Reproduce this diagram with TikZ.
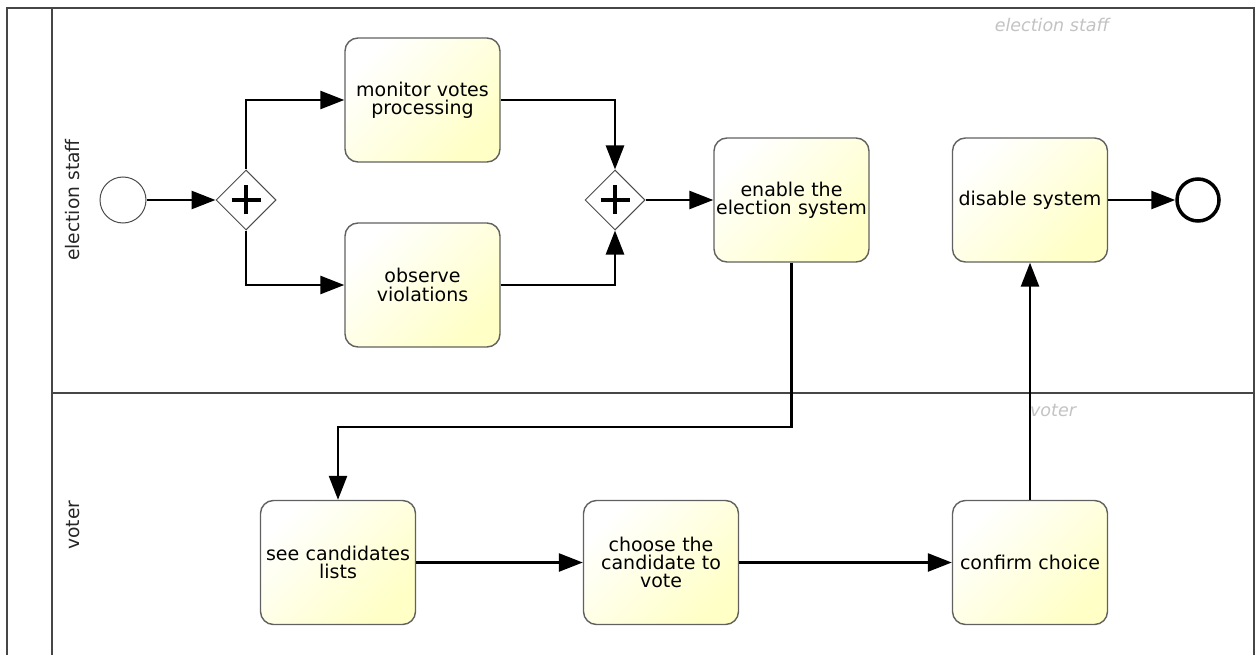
\documentclass[tikz,border=0pt]{standalone}
\usepackage{fontspec}
\setmainfont{DejaVu Sans}
\usetikzlibrary{arrows.meta,shapes.geometric}
\definecolor{taskyellow}{RGB}{255,255,198}
\definecolor{poolline}{RGB}{70,70,70}
\definecolor{ghost}{RGB}{195,195,195}
\begin{document}
\begin{tikzpicture}[x=1pt,y=-1pt,
  task/.style={rectangle, rounded corners=13pt, draw=black!62, line width=1.4pt,
    minimum width=155pt, minimum height=124pt, inner sep=0pt, align=center,
    text width=153pt, font=\fontsize{19}{18.3}\selectfont,
    left color=white, right color=taskyellow, shading angle=45},
  gateway/.style={diamond, draw=black!70, line width=1pt, fill=white,
    minimum width=60pt, minimum height=60pt, inner sep=0pt},
  plus/.style={line width=4pt, black},
  startev/.style={circle, draw=black!70, line width=1pt, fill=white,
    minimum size=46pt, inner sep=0pt},
  endev/.style={circle, draw=black, line width=3.5pt, fill=white,
    minimum size=42pt, inner sep=0pt},
  flow/.style={line width=2.6pt, -{Triangle[length=24pt,width=18pt]}},
  lanebox/.style={draw=poolline, line width=1.8pt},
  lanename/.style={rotate=90, font=\fontsize{18.7}{18}\selectfont, text=black!85},
  ghostname/.style={font=\fontsize{17.5}{18}\selectfont\itshape, text=ghost}]
\useasboundingbox (0,0) rectangle (1255,655);
\fill[white] (0,0) rectangle (1255,655);

% pool and lanes
\draw[lanebox] (7,655) -- (7,8) -- (1254,8) -- (1254,655);
\draw[lanebox] (52,8) -- (52,655);
\draw[lanebox] (52,393) -- (1254,393);
\node[lanename] (laneA) at (73,200) {election staff};
\node[lanename] (laneB) at (73,525) {voter};
\node[ghostname] (ghostA) at (1052,25) {election staff};
\node[ghostname] (ghostB) at (1053,410) {voter};

% election staff lane
\node[startev] (start) at (123,200) {};
\node[gateway] (g1) at (246,200) {};
\node[task] (monitor) at (422.5,100) {monitor votes\\processing};
\node[task] (observe) at (422.5,285) {observe\\violations};
\node[gateway] (g2) at (615,200) {};
\node[task] (enable) at (791.5,200) {enable the\\election system};
\node[task] (disable) at (1030,200) {disable system};
\node[endev] (finish) at (1198,200) {};

\foreach \g in {g1,g2}{
  \draw[plus] ([xshift=-14.5pt]\g.center) -- ([xshift=14.5pt]\g.center);
  \draw[plus] ([yshift=-14.5pt]\g.center) -- ([yshift=14.5pt]\g.center);
}

% voter lane
\node[task] (see) at (338,562.5) {see candidates\\lists};
\node[task] (choose) at (661,562.5) {choose the\\candidate to\\vote};
\node[task] (confirm) at (1030,562.5) {confirm choice};
\coordinate (turn) at (338,427);

% sequence flows
\draw[flow] (start) -- (g1);
\draw[flow] (g1.north) |- (monitor.west);
\draw[flow] (g1.south) |- (observe.west);
\draw[flow] (monitor.east) -| (g2.north);
\draw[flow] (observe.east) -| (g2.south);
\draw[flow] (g2.east) -- (enable.west);
\draw[flow] (enable.south) |- (turn) -- (see.north);
\draw[flow] (see) -- (choose);
\draw[flow] (choose) -- (confirm);
\draw[flow] (confirm) -- (disable);
\draw[flow] (disable) -- (finish);
\end{tikzpicture}
\end{document}
